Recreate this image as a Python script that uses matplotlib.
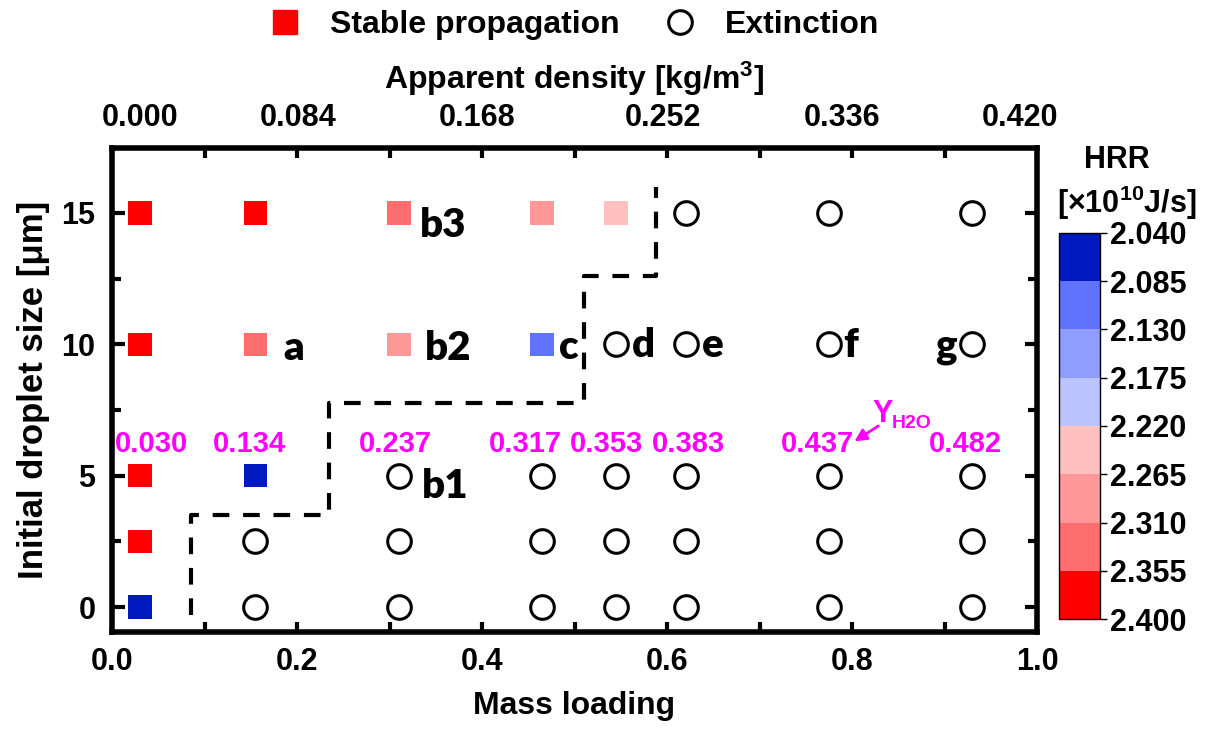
import matplotlib
matplotlib.use('Agg')
import matplotlib.pyplot as plt
from matplotlib.colors import ListedColormap, BoundaryNorm
from matplotlib.cm import ScalarMappable
from matplotlib.lines import Line2D
from matplotlib.ticker import MultipleLocator, FormatStrFormatter

plt.rcParams['font.family'] = ['Liberation Sans', 'DejaVu Sans']
plt.rcParams['font.weight'] = 'bold'
plt.rcParams['mathtext.fontset'] = 'custom'
plt.rcParams['mathtext.rm'] = 'Liberation Sans:bold'
plt.rcParams['mathtext.it'] = 'Liberation Sans:bold'
plt.rcParams['mathtext.bf'] = 'Liberation Sans:bold'

# stable propagation cases, coloured by HRR [x1e10 J/s]
stable_x = [0.03, 0.155, 0.31, 0.465, 0.545, 0.03, 0.155, 0.31, 0.465, 0.03, 0.155, 0.03, 0.03]
stable_y = [15, 15, 15, 15, 15, 10, 10, 10, 10, 5, 5, 2.5, 0]
stable_hrr = [2.38, 2.37, 2.33, 2.29, 2.24, 2.38, 2.33, 2.29, 2.10, 2.38, 2.06, 2.38, 2.06]

# extinction cases
ext_x = [0.62, 0.775, 0.93,
         0.545, 0.62, 0.775, 0.93,
         0.31, 0.465, 0.545, 0.62, 0.775, 0.93,
         0.155, 0.31, 0.465, 0.545, 0.62, 0.775, 0.93,
         0.155, 0.31, 0.465, 0.545, 0.62, 0.775, 0.93]
ext_y = [15] * 3 + [10] * 4 + [5] * 6 + [2.5] * 7 + [0] * 7

# propagation / extinction boundary
bound_x = [0.085, 0.085, 0.235, 0.235, 0.51, 0.51, 0.588, 0.588]
bound_y = [-0.3, 3.5, 3.5, 7.75, 7.75, 12.6, 12.6, 16.0]

# water mass fraction labels
yh2o_x = [0.043, 0.149, 0.306, 0.4465, 0.535, 0.623, 0.763, 0.922]
yh2o_labels = ['0.030', '0.134', '0.237', '0.317', '0.353', '0.383', '0.437', '0.482']

# top axis (apparent density)
dens_pos = [0.030, 0.201, 0.395, 0.596, 0.789, 0.982]
dens_labels = ['0.000', '0.084', '0.168', '0.252', '0.336', '0.420']

# case letters
case_labels = ['a', 'b2', 'c', 'd', 'e', 'f', 'g', 'b3', 'b1']
case_x = [0.185, 0.338, 0.483, 0.562, 0.638, 0.790, 0.890, 0.333, 0.335]
case_y = [9.4, 9.4, 9.45, 9.5, 9.5, 9.5, 9.5, 14.1, 4.15]

hrr_bounds = [2.040, 2.085, 2.130, 2.175, 2.220, 2.265, 2.310, 2.355, 2.400]
hrr_colors = ['#0019C0', '#5F73FF', '#8E9DFF', '#BCC4FF',
              '#FFC0C0', '#FF9898', '#FF6E6E', '#FF0000']

cmap = ListedColormap(hrr_colors)
norm = BoundaryNorm(hrr_bounds, cmap.N)

fig = plt.figure(figsize=(12.07, 7.31), dpi=100)
ax = fig.add_axes([0.0928, 0.1354, 0.7664, 0.6621])

ax.scatter(stable_x, stable_y, c=stable_hrr, cmap=cmap, norm=norm,
           marker='s', s=17 ** 2, linewidths=0, zorder=3)
ax.plot(ext_x, ext_y, 'o', ms=17, mfc='none', mec='black', mew=2.2, zorder=3)
ax.plot(bound_x, bound_y, color='black', lw=3, ls=(0, (4, 3.3)), zorder=2)

for x, t in zip(yh2o_x, yh2o_labels):
    ax.text(x, 5.9, t, color='#FF00FF', fontsize=21, fontweight='bold',
            ha='center', va='baseline')
ax.text(0.822, 7.04, 'Y', color='#FF00FF', fontsize=22, fontweight='bold', va='baseline')
ax.text(0.843, 6.81, 'H2O', color='#FF00FF', fontsize=14, fontweight='bold', va='baseline')
ax.annotate('', xy=(0.800, 6.25), xytext=(0.831, 6.95),
            arrowprops=dict(arrowstyle='-|>', color='#FF00FF', lw=2,
                            mutation_scale=18))

for x, y, t in zip(case_x, case_y, case_labels):
    ax.text(x, y, t, family=['Lato', 'DejaVu Sans'], fontsize=29,
            fontweight='heavy', ha='left', va='baseline')

ax.set_xlim(0, 1)
ax.set_ylim(-0.95, 17.47)
ax.xaxis.set_major_locator(MultipleLocator(0.2))
ax.xaxis.set_minor_locator(MultipleLocator(0.1))
ax.xaxis.set_major_formatter(FormatStrFormatter('%.1f'))
ax.yaxis.set_major_locator(MultipleLocator(5))
ax.yaxis.set_minor_locator(MultipleLocator(2.5))

for s in ax.spines.values():
    s.set_linewidth(4)
ax.tick_params(which='both', direction='in', top=True, right=True, labelsize=22)
ax.tick_params(axis='x', which='both', length=7, width=3, pad=11)
ax.tick_params(axis='y', which='major', length=9, width=3, pad=12)
ax.tick_params(axis='y', which='minor', length=6.5, width=3)

ax.set_xlabel('Mass loading', fontsize=23, fontweight='bold', labelpad=10)
ax.set_ylabel('Initial droplet size [μm]', fontsize=25, fontweight='bold', labelpad=8)

secax = ax.secondary_xaxis('top')
secax.set_xticks(dens_pos, dens_labels)
secax.tick_params(length=0, pad=11, labelsize=22)
secax.spines['top'].set_visible(False)
secax.set_xlabel('Apparent density [kg/m$^3$]', fontsize=23, fontweight='bold', labelpad=10)

# colour bar
cax = fig.add_axes([0.8774, 0.1532, 0.034, 0.5281])
sm = ScalarMappable(norm=norm, cmap=cmap)
cb = fig.colorbar(sm, cax=cax, ticks=hrr_bounds)
cb.ax.invert_yaxis()
cb.outline.set_linewidth(1)
cb.ax.set_yticklabels(['%.3f' % v for v in hrr_bounds])
cb.ax.tick_params(labelsize=22, length=5, width=1, pad=2)
fig.text(0.9253, 0.781, 'HRR', fontsize=22, fontweight='bold', ha='center', va='center')
fig.text(0.9337, 0.722, '[×10$^{10}$J/s]', fontsize=22, fontweight='bold', ha='center', va='center')

# legend
handles = [Line2D([], [], marker='s', ls='none', color='red', ms=17),
           Line2D([], [], marker='o', ls='none', mfc='none', mec='black', ms=17, mew=2.2)]
fig.legend(handles, ['Stable propagation', 'Extinction'], loc='center',
           bbox_to_anchor=(0.476, 0.966), ncol=2, frameon=False,
           fontsize=23, handletextpad=0.9, columnspacing=1.4, handlelength=1.0)

fig.savefig('out.png', dpi=100)
